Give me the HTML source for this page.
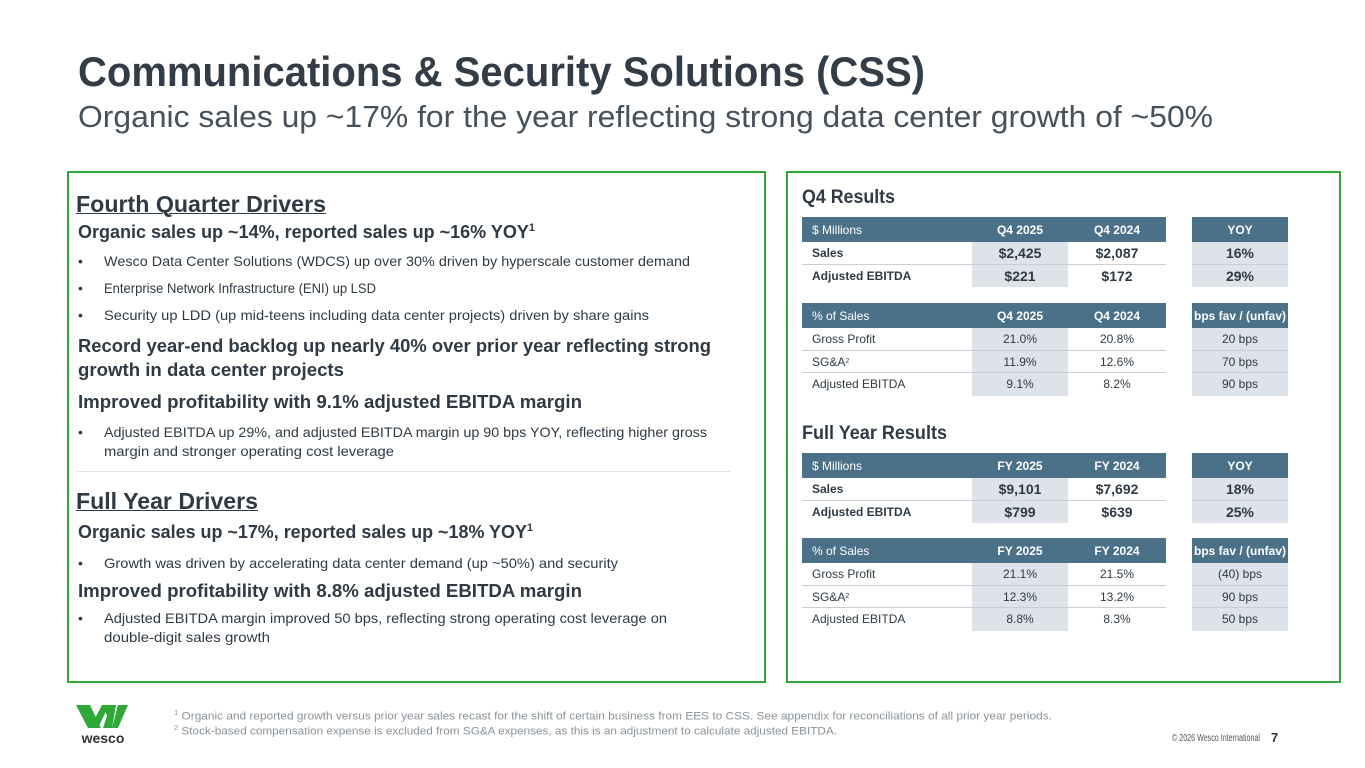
<!DOCTYPE html>
<html><head><meta charset="utf-8">
<style>
body{margin:0;width:1365px;height:768px;background:#fff;overflow:hidden;position:relative;font-family:"Liberation Sans",sans-serif;color:#2f3a44}
.t{position:absolute;white-space:nowrap;transform-origin:0 50%;line-height:1}
.b{font-weight:bold}
.box{position:absolute;border:2px solid #2ea836;box-sizing:border-box}
.cell{position:absolute;box-sizing:border-box;font-size:12px;display:flex;align-items:center;justify-content:center;white-space:nowrap}
.hd{background:#4b7189;color:#fff}
.sh{background:#dde3e8}
.ln{position:absolute;height:1px;background:#c9cfd4}
</style></head><body>
<div class="t b" style="left:78px;top:51px;font-size:42px;color:#333d47" data-w="847">Communications &amp; Security Solutions (CSS)</div>
<div class="t" style="left:78px;top:101px;font-size:31px;color:#46515b" data-w="1135">Organic sales up ~17% for the year reflecting strong data center growth of ~50%</div>

<div class="box" style="left:67px;top:171px;width:699px;height:512px"></div>
<div class="box" style="left:786px;top:171px;width:555px;height:512px"></div>

<div class="t b" style="left:76px;top:193px;font-size:23px;text-decoration:underline;text-decoration-thickness:1px" data-w="250">Fourth Quarter Drivers</div>
<div class="t b" style="left:78px;top:223px;font-size:18px" data-w="457">Organic sales up ~14%, reported sales up ~16% YOY<sup style="font-size:11px">1</sup></div>
<div class="t" style="left:78px;top:254px;font-size:14px">•</div>
<div class="t" style="left:104px;top:254px;font-size:14px" data-w="586">Wesco Data Center Solutions (WDCS) up over 30% driven by hyperscale customer demand</div>
<div class="t" style="left:78px;top:281px;font-size:14px">•</div>
<div class="t" style="left:104px;top:281px;font-size:14px" data-w="272">Enterprise Network Infrastructure (ENI) up LSD</div>
<div class="t" style="left:78px;top:308px;font-size:14px">•</div>
<div class="t" style="left:104px;top:308px;font-size:14px" data-w="545">Security up LDD (up mid-teens including data center projects) driven by share gains</div>
<div class="t b" style="left:78px;top:337px;font-size:18px" data-w="633">Record year-end backlog up nearly 40% over prior year reflecting strong</div>
<div class="t b" style="left:78px;top:361px;font-size:18px" data-w="266">growth in data center projects</div>
<div class="t b" style="left:78px;top:393px;font-size:18px" data-w="504">Improved profitability with 9.1% adjusted EBITDA margin</div>
<div class="t" style="left:78px;top:425px;font-size:14px">•</div>
<div class="t" style="left:104px;top:425px;font-size:14px" data-w="603">Adjusted EBITDA up 29%, and adjusted EBITDA margin up 90 bps YOY, reflecting higher gross</div>
<div class="t" style="left:104px;top:444px;font-size:14px" data-w="290">margin and stronger operating cost leverage</div>
<div class="ln" style="left:76px;top:471px;width:654px;background:#dde1e4"></div>
<div class="t b" style="left:76px;top:490px;font-size:23px;text-decoration:underline;text-decoration-thickness:1px" data-w="182">Full Year Drivers</div>
<div class="t b" style="left:78px;top:523px;font-size:18px" data-w="455">Organic sales up ~17%, reported sales up ~18% YOY<sup style="font-size:11px">1</sup></div>
<div class="t" style="left:78px;top:556px;font-size:14px">•</div>
<div class="t" style="left:104px;top:556px;font-size:14px" data-w="514">Growth was driven by accelerating data center demand (up ~50%) and security</div>
<div class="t b" style="left:78px;top:582px;font-size:18px" data-w="504">Improved profitability with 8.8% adjusted EBITDA margin</div>
<div class="t" style="left:78px;top:611px;font-size:14px">•</div>
<div class="t" style="left:104px;top:611px;font-size:14px" data-w="563">Adjusted EBITDA margin improved 50 bps, reflecting strong operating cost leverage on</div>
<div class="t" style="left:104px;top:630px;font-size:14px" data-w="166">double-digit sales growth</div>

<div class="t b" style="left:802px;top:188px;font-size:19px" data-w="93">Q4 Results</div>
<div class="t b" style="left:802px;top:424px;font-size:19px" data-w="145">Full Year Results</div>

<div id="tables"></div>

<svg style="position:absolute;left:76px;top:704px" width="54" height="40" viewBox="0 0 54 40">
<polygon points="0,1 14,1 25,24 12,24" fill="#2ea836"/>
<polygon points="14,24 26,1 33,1 22,24" fill="#2ea836"/>
<polygon points="27,1 40,1 40,1 36,24 27,24 31,12" fill="#2ea836"/>
<polygon points="36,24 42,1 52,1 42,24" fill="#2ea836"/>
<text x="27" y="39" text-anchor="middle" font-family="Liberation Sans" font-weight="bold" font-size="14" fill="#333">wesco</text>
</svg>
<div class="t" style="left:174px;top:710px;font-size:11px;color:#8a9299" data-w="878"><sup style="font-size:7px">1</sup> Organic and reported growth versus prior year sales recast for the shift of certain business from EES to CSS. See appendix for reconciliations of all prior year periods.</div>
<div class="t" style="left:174px;top:725px;font-size:11px;color:#8a9299" data-w="663"><sup style="font-size:7px">2</sup> Stock-based compensation expense is excluded from SG&amp;A expenses, as this is an adjustment to calculate adjusted EBITDA.</div>
<div class="t" style="left:1172px;top:734px;font-size:10px;color:#555" data-w="88">© 2026 Wesco International</div>
<div class="t b" style="left:1271px;top:731px;font-size:13px;color:#333">7</div>

<script>
const q4Money=[["$ Millions","Q4 2025","Q4 2024","YOY"],["Sales","$2,425","$2,087","16%"],["Adjusted EBITDA","$221","$172","29%"]];
const q4Pct=[["% of Sales","Q4 2025","Q4 2024","bps fav / (unfav)"],["Gross Profit","21.0%","20.8%","20 bps"],["SG&A<sup>2</sup>","11.9%","12.6%","70 bps"],["Adjusted EBITDA","9.1%","8.2%","90 bps"]];
const fyMoney=[["$ Millions","FY 2025","FY 2024","YOY"],["Sales","$9,101","$7,692","18%"],["Adjusted EBITDA","$799","$639","25%"]];
const fyPct=[["% of Sales","FY 2025","FY 2024","bps fav / (unfav)"],["Gross Profit","21.1%","21.5%","(40) bps"],["SG&A<sup>2</sup>","12.3%","13.2%","90 bps"],["Adjusted EBITDA","8.8%","8.3%","50 bps"]];
const colX=[802,972,1068,1192], colW=[170,96,98,96];
const root=document.getElementById('tables');
function table(rows,top,bold,name){
  let y=top;
  rows.forEach((r,ri)=>{
    const h=ri===0?25:22.5;
    r.forEach((v,ci)=>{
      const c=document.createElement('div');
      
      
      c.className='cell'+(ri===0?' hd'+(ci>0?' b':''):((ci===1||ci===3)?' sh':''))+(ri>0&&bold?' b':'');
      if(ri>0&&bold&&ci>0)c.style.fontSize='14px';
      c.style.left=colX[ci]+'px';c.style.top=y+'px';
      c.style.width=colW[ci]+'px';c.style.height=h+'px';
      if(ci===0){c.style.justifyContent='flex-start';c.style.paddingLeft='10px';}
      c.innerHTML=v.replace('<sup>','<sup style="font-size:7px">');
      root.appendChild(c);
    });
    if(ri>0&&ri<rows.length-1){
      const l1=document.createElement('div');
      
      
      l1.className='ln';l1.style.left='802px';l1.style.width='364px';l1.style.top=(y+h-1)+'px';root.appendChild(l1);
      const l2=document.createElement('div');
      
      
      l2.className='ln';l2.style.left='1192px';l2.style.width='96px';l2.style.top=(y+h-1)+'px';root.appendChild(l2);
    }
    y+=h;
  });
}
table(q4Money,217,true,'q4-dollars-table');
table(q4Pct,303,false,'q4-percent-table');
table(fyMoney,453,true,'fy-dollars-table');
table(fyPct,538,false,'fy-percent-table');
document.querySelectorAll('[data-w]').forEach(e=>{
  const w=e.getBoundingClientRect().width;const t=+e.getAttribute('data-w');
  e.style.transform='scaleX('+(t/w)+')';
});
</script>
</body></html>
